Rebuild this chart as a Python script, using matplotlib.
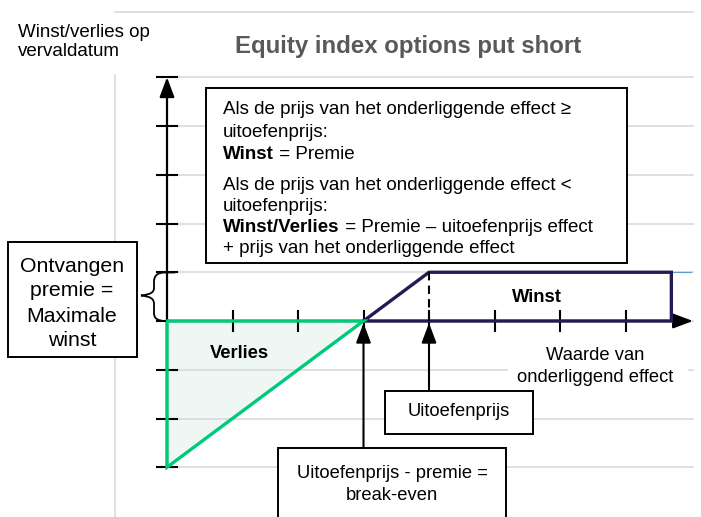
import matplotlib
matplotlib.use('Agg')
import matplotlib.pyplot as plt
from matplotlib.patches import Rectangle, Polygon, PathPatch
from matplotlib.path import Path
import matplotlib.transforms as mtransforms

plt.rcParams['font.family'] = ['Liberation Sans', 'DejaVu Sans']

# ---------------- data ----------------
title = "Equity index options put short"
y_axis_label = ["Winst/verlies op", "vervaldatum"]
x_axis_label = ["Waarde van", "onderliggend effect"]
premium = 1.0
strike = 4.0
break_even = strike - premium
x_axis_end = 8.0
profit_end = 7.7
loss_x = [0, break_even, 0]
loss_y = [0, 0, -3]
profit_x = [break_even, strike, profit_end, profit_end, break_even]
profit_y = [0, premium, premium, 0, 0]
x_ticks = [1, 2, 3, 4, 5, 6, 7]
y_ticks = [-3, -2, -1, 0, 1, 2, 3, 4, 5]

# ---------------- layout helpers (pixel -> data) ----------------
X0, DX = 167.0, 65.5
Y0, DY = 321.0, 48.75
W, H = 701, 517


def PX(px):
    return (px - X0) / DX


def PY(py):
    return (Y0 - py) / DY


fig = plt.figure(figsize=(W / 100, H / 100), dpi=100)
ax = fig.add_axes([0, 0, 1, 1])
ax.set_xlim(PX(0), PX(W))
ax.set_ylim(PY(H), PY(0))
ax.axis('off')

GRID = '#d9d9d9'
NAVY = '#211c52'
GREEN = '#00c97a'
FILL = '#eef7f3'

# frame lines
ax.plot([PX(115), PX(693)], [PY(12), PY(12)], color=GRID, lw=1.2, zorder=0)
ax.plot([PX(115), PX(115)], [PY(75), PY(H)], color=GRID, lw=1.2, zorder=0)

# loss area fill
ax.add_patch(Polygon(list(zip(loss_x, loss_y)), closed=True, facecolor=FILL,
                     edgecolor='none', zorder=1))

# gridlines
for yv in y_ticks:
    ax.plot([0, PX(693)], [yv, yv], color=GRID, lw=1.2, zorder=2)

# white background of x-axis label
ax.add_patch(Rectangle((PX(508), PY(392)), PX(688) - PX(508), PY(340) - PY(392),
                       facecolor='white', edgecolor='none', zorder=2.5))

# axes with arrows
ax.annotate('', xy=(0, y_ticks[-1]), xytext=(0, y_ticks[0]),
            arrowprops=dict(arrowstyle='-|>,head_length=1.2,head_width=0.45',
                            mutation_scale=10, color='black', lw=1.6,
                            shrinkA=0, shrinkB=0), zorder=3)
ax.annotate('', xy=(x_axis_end + 0.03, 0), xytext=(0, 0),
            arrowprops=dict(arrowstyle='-|>,head_length=1.2,head_width=0.45',
                            mutation_scale=10, color='black', lw=1.6,
                            shrinkA=0, shrinkB=0), zorder=3)

# ticks
for yv in y_ticks:
    ax.plot([-10 / DX, 10 / DX], [yv, yv], color='black', lw=1.5, zorder=3)
for xv in x_ticks:
    ax.plot([xv, xv], [-10 / DY, 10 / DY], color='black', lw=1.5, zorder=3)

# thin blue continuation of premium line
ax.plot([profit_end, x_axis_end], [premium, premium], color='#5b9bd5', lw=0.8, zorder=2)

# profit outline
ax.plot(profit_x, profit_y, color=NAVY, lw=2.4, zorder=4, solid_joinstyle='miter')
# loss outline
ax.add_patch(Polygon(list(zip(loss_x, loss_y)), closed=True, facecolor='none',
                     edgecolor=GREEN, lw=2.4, zorder=4, joinstyle='miter'))

# dashed strike line
ax.plot([strike, strike], [0, premium], color='black', lw=1.5, ls=(0, (4, 2.5)), zorder=4)

# arrows from labels
ax.annotate('', xy=(break_even, -2 / DY), xytext=(break_even, PY(448)),
            arrowprops=dict(arrowstyle='-|>,head_length=1.2,head_width=0.45',
                            mutation_scale=10, color='black', lw=1.5,
                            shrinkA=0, shrinkB=0), zorder=5)
ax.annotate('', xy=(strike, -2 / DY), xytext=(strike, PY(391)),
            arrowprops=dict(arrowstyle='-|>,head_length=1.2,head_width=0.45',
                            mutation_scale=10, color='black', lw=1.5,
                            shrinkA=0, shrinkB=0), zorder=5)


def box(x1, y1, x2, y2):
    r = Rectangle((PX(x1), PY(y2)), PX(x2) - PX(x1), PY(y1) - PY(y2),
                  facecolor='white', edgecolor='black', lw=1.4, zorder=6)
    ax.add_patch(r)
    return r


# boxes
top_box = box(206, 88, 627, 263)
box(385, 391, 533, 434)
box(278, 448, 506, 540)
box(8, 242, 137, 357)

# invisible clip region for the text inside the top box
clip_rect = Rectangle((PX(206), PY(253)), PX(627) - PX(206), PY(90) - PY(253),
                      facecolor='none', edgecolor='none', transform=ax.transData)

FS = 13.2
FS_BOX = 13.5

renderer = fig.canvas.get_renderer()


def line(px, py, bold_part, rest, clip=None):
    t1 = ax.text(PX(px), PY(py), bold_part, fontsize=FS_BOX, fontweight='bold',
                 va='baseline', ha='left', zorder=7)
    xoff = 0
    if bold_part:
        xoff = t1.get_window_extent(renderer).width
    tr = mtransforms.offset_copy(ax.transData, fig=fig, x=xoff, y=0, units='dots')
    t2 = ax.text(PX(px), PY(py), rest, fontsize=FS_BOX, va='baseline', ha='left',
                 transform=tr, zorder=7)
    if clip is not None:
        t1.set_clip_path(clip)
        t2.set_clip_path(clip)


lines = [("", "Als de prijs van het onderliggende effect \u2265", 114),
         ("", "uitoefenprijs:", 137),
         ("Winst", " = Premie", 159),
         ("", "Als de prijs van het onderliggende effect <", 190),
         ("", "uitoefenprijs:", 211),
         ("Winst/Verlies", " = Premie \u2013 uitoefenprijs effect", 232),
         ("", "+ prijs van het onderliggende effect", 253)]
for b, r, yy in lines:
    line(223, yy, b, r, clip=clip_rect)

# other texts
ax.text(PX(408), PY(47), title, fontsize=17.3, fontweight='bold', color='#595959',
        ha='center', va='center')
ax.text(PX(18), PY(33), y_axis_label[0], fontsize=13.5, ha='left', va='center')
ax.text(PX(18), PY(52), y_axis_label[1], fontsize=13.5, ha='left', va='center')
ax.text(PX(595), PY(355), x_axis_label[0], fontsize=FS, ha='center', va='center', zorder=7)
ax.text(PX(595), PY(378), x_axis_label[1], fontsize=FS, ha='center', va='center', zorder=7)
ax.text(PX(537), PY(297), "Winst", fontsize=FS, fontweight='bold', ha='center', va='center', zorder=7)
ax.text(PX(239), PY(353), "Verlies", fontsize=FS, fontweight='bold', ha='center', va='center', zorder=7)
ax.text(PX(459), PY(412), "Uitoefenprijs", fontsize=FS, ha='center', va='center', zorder=7)
ax.text(PX(392), PY(473), "Uitoefenprijs - premie =", fontsize=FS, ha='center', va='center', zorder=7)
ax.text(PX(392), PY(496), "break-even", fontsize=FS, ha='center', va='center', zorder=7)
for txt, yy in zip(["Ontvangen", "premie =", "Maximale", "winst"], [266, 291, 316, 341]):
    ax.text(PX(72), PY(yy), txt, fontsize=15.3, ha='center', va='center', zorder=7)

# brace
bp = [(175, 272.5), (165, 272.5),
      (157, 272.5), (154, 276), (154, 282),
      (154, 288),
      (154, 292), (151, 294.5), (141, 295.5),
      (151, 296.5), (154, 299), (154, 304),
      (154, 313),
      (154, 318), (157, 321), (166, 321)]
codes = [Path.MOVETO, Path.LINETO,
         Path.CURVE4, Path.CURVE4, Path.CURVE4,
         Path.LINETO,
         Path.CURVE4, Path.CURVE4, Path.CURVE4,
         Path.CURVE4, Path.CURVE4, Path.CURVE4,
         Path.LINETO,
         Path.CURVE4, Path.CURVE4, Path.CURVE4]
ax.add_patch(PathPatch(Path([(PX(a), PY(b)) for a, b in bp], codes),
                       facecolor='none', edgecolor='black', lw=1.3, zorder=5))

fig.savefig('out.png', dpi=100)
